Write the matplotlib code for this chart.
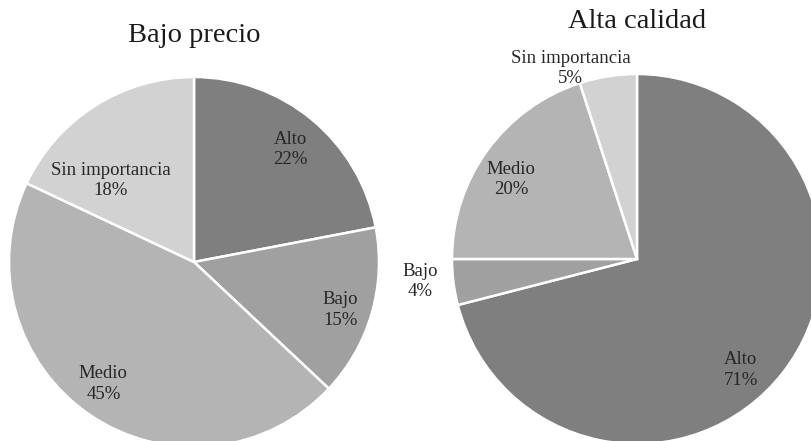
import matplotlib
matplotlib.use("Agg")
import matplotlib.pyplot as plt

categories = ["Alto", "Bajo", "Medio", "Sin importancia"]
bajo_precio = [22, 15, 45, 18]
alta_calidad = [71, 4, 20, 5]
titles = ["Bajo precio", "Alta calidad"]

colors = ["#7f7f7f", "#a0a0a0", "#b4b4b4", "#d2d2d2"]
# label placements (style), in pie-radius units
label_pos_left = [(0.52, 0.61), (0.79, -0.26), (-0.49, -0.66), (-0.45, 0.44)]
label_pos_right = [(0.56, -0.60), (-1.17, -0.12), (-0.68, 0.43), (-0.36, 1.03)]

plt.rcParams['font.family'] = ['Liberation Serif', 'DejaVu Serif']

W, H = 811, 441
fig = plt.figure(figsize=(W / 100, H / 100), dpi=100)
fig.patch.set_facecolor("white")

R = 185
centers = [(194, 262), (637, 259)]
title_y = [35, 22]
datasets = [bajo_precio, alta_calidad]
label_sets = [label_pos_left, label_pos_right]

for (cx, cy), vals, title, ty, lpos in zip(centers, datasets, titles, title_y, label_sets):
    ax = fig.add_axes([(cx - R) / W, (H - cy - R) / H, 2 * R / W, 2 * R / H])
    ax.pie(vals, colors=colors, startangle=90, counterclock=False, radius=1,
           wedgeprops=dict(edgecolor="white", linewidth=1.8))
    ax.set_xlim(-1, 1)
    ax.set_ylim(-1, 1)
    ax.set_aspect("equal")
    ax.axis("off")
    for cat, v, (lx, ly) in zip(categories, vals, lpos):
        ax.text(lx, ly, f"{cat}\n{v}%", ha="center", va="center", fontsize=13.5,
                color="#262626", linespacing=1.25, clip_on=False)
    fig.text(cx / W, 1 - ty / H, title, ha="center", va="center", fontsize=20.5, color="#1a1a1a")

fig.savefig("out.png", dpi=100)
